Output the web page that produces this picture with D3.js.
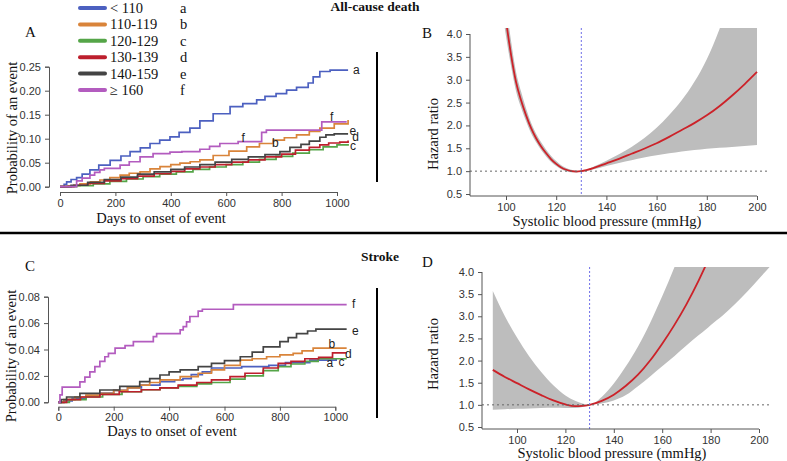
<!DOCTYPE html>
<html><head><meta charset="utf-8">
<script src="https://cdn.jsdelivr.net/npm/d3@7"></script>
<style>
body{margin:0;background:#fff;}
svg{display:block;}
.tick text{font-family:'Liberation Sans',Arimo,Arial,Helvetica,sans-serif;font-size:11px;fill:#333;}
.serif{font-family:'Liberation Serif',Tinos,'Times New Roman',Times,serif;fill:#111;}
.sans{font-family:'Liberation Sans',Arimo,Arial,Helvetica,sans-serif;fill:#222;}
</style></head>
<body>
<svg id="chart" width="787" height="461"></svg>
<script>
// ---------- DATA ----------
const groups = ["< 110","110-119","120-129","130-139","140-159","\u2265 160"];
const groupLetters = ["a","b","c","d","e","f"];
const groupColors = ["#4c60c0","#d9843a","#55a548","#bd1f2d","#444444","#b35cbf"];

const daysTicks = [0,200,400,600,800,1000];
const probTicksA = [0,0.05,0.10,0.15,0.20,0.25];
const probTicksC = [0,0.02,0.04,0.06,0.08];
const hrTicks = [0.5,1.0,1.5,2.0,2.5,3.0,3.5,4.0];
const sbpTicks = [100,120,140,160,180,200];

// All-cause death KM curves [day, probability]
const deathA = [[0,0],[15,0.005],[24,0.010],[40,0.015],[60,0.019],[80,0.026],[108,0.035],[140,0.045],[181,0.055],[220,0.064],[253,0.073],[290,0.081],[325,0.090],[360,0.097],[397,0.104],[430,0.113],[469,0.122],[505,0.137],[553,0.152],[614,0.167],[660,0.173],[710,0.181],[740,0.188],[780,0.194],[818,0.201],[854,0.207],[896,0.216],[914,0.229],[938,0.240],[975,0.243],[1040,0.243]];
const deathB = [[0,0],[30,0.002],[72,0.006],[110,0.010],[144,0.014],[180,0.019],[217,0.024],[250,0.028],[289,0.031],[325,0.037],[361,0.042],[400,0.046],[433,0.049],[470,0.052],[505,0.056],[553,0.065],[610,0.074],[674,0.083],[720,0.090],[770,0.097],[810,0.102],[854,0.108],[900,0.115],[938,0.122],[990,0.131],[1040,0.139]];
const deathC = [[0,0],[60,0.002],[120,0.006],[180,0.011],[240,0.016],[300,0.021],[360,0.026],[420,0.031],[480,0.036],[540,0.041],[600,0.046],[660,0.051],[720,0.057],[780,0.063],[840,0.070],[900,0.077],[950,0.083],[1000,0.087],[1040,0.089]];
const deathD = [[0,0],[50,0.003],[100,0.007],[160,0.012],[220,0.017],[280,0.022],[340,0.027],[400,0.032],[450,0.037],[505,0.041],[560,0.046],[620,0.051],[680,0.056],[740,0.062],[800,0.068],[850,0.076],[900,0.082],[938,0.087],[970,0.091],[1010,0.093],[1040,0.096]];
const deathE = [[0,0],[40,0.003],[100,0.009],[160,0.015],[220,0.020],[280,0.026],[340,0.031],[400,0.036],[450,0.041],[505,0.046],[560,0.051],[620,0.057],[680,0.062],[740,0.067],[794,0.073],[830,0.082],[870,0.088],[900,0.095],[938,0.103],[960,0.108],[990,0.110],[1040,0.110]];
const deathF = [[0,0],[54,0],[60,0.012],[80,0.018],[108,0.024],[125,0.030],[144,0.035],[160,0.038],[217,0.045],[250,0.052],[289,0.062],[336,0.069],[397,0.072],[440,0.073],[505,0.078],[540,0.084],[577,0.090],[643,0.094],[728,0.113],[745,0.118],[945,0.135],[1035,0.135]];

// Stroke KM curves
const strokeA = [[0,0],[20,0.001],[50,0.003],[100,0.005],[150,0.007],[200,0.009],[250,0.011],[300,0.013],[367,0.0156],[420,0.017],[450,0.018],[480,0.021],[520,0.023],[553,0.026],[662,0.027],[760,0.028],[820,0.030],[908,0.032],[1003,0.033]];
const strokeB = [[0,0],[20,0.002],[60,0.004],[100,0.0055],[150,0.0068],[200,0.009],[250,0.011],[294,0.013],[330,0.015],[367,0.017],[440,0.0194],[505,0.022],[553,0.0245],[600,0.028],[657,0.032],[700,0.033],[752,0.0345],[800,0.036],[848,0.037],[880,0.039],[920,0.041],[1041,0.041]];
const strokeC = [[0,0],[40,0.002],[100,0.004],[160,0.006],[230,0.008],[300,0.0095],[367,0.011],[433,0.012],[500,0.014],[553,0.015],[620,0.0175],[674,0.020],[740,0.024],[794,0.027],[840,0.029],[890,0.031],[938,0.033],[1041,0.033]];
const strokeD = [[0,0],[30,0.002],[80,0.004],[150,0.006],[220,0.008],[300,0.0095],[367,0.011],[433,0.013],[500,0.015],[553,0.017],[620,0.0195],[674,0.022],[740,0.026],[794,0.0295],[840,0.031],[890,0.033],[940,0.034],[990,0.0375],[1041,0.0375]];
const strokeE = [[0,0],[10,0.002],[30,0.004],[78,0.0068],[150,0.0093],[222,0.012],[294,0.0156],[330,0.018],[367,0.0207],[400,0.023],[440,0.0245],[505,0.027],[553,0.0295],[600,0.0315],[657,0.0345],[700,0.038],[740,0.042],[800,0.046],[830,0.049],[860,0.052],[900,0.054],[930,0.0555],[1041,0.0555]];
const strokeF = [[0,0],[6,0.0056],[14,0.0115],[66,0.0115],[78,0.0155],[96,0.019],[114,0.023],[132,0.027],[150,0.031],[168,0.0345],[181,0.037],[205,0.041],[241,0.043],[271,0.046],[343,0.0497],[355,0.052],[440,0.0548],[451,0.0573],[463,0.061],[475,0.065],[505,0.069],[520,0.0705],[632,0.074],[1041,0.074]];

// Spline hazard ratios: All-cause death
const sbpDeath =   [98,100,102,104,106,108,110,112,114,116,118,120,122,124,126,128,130,135,140,145,150,155,160,165,170,175,180,185,190,195,200];
const hrDeath =    [5.2,4.3,3.55,2.95,2.55,2.22,1.94,1.72,1.54,1.39,1.26,1.16,1.08,1.03,1.0,0.99,1.0,1.07,1.17,1.27,1.38,1.49,1.61,1.75,1.9,2.05,2.22,2.42,2.65,2.9,3.17];
const hrDeathLo =  [4.7,3.95,3.3,2.75,2.39,2.09,1.83,1.63,1.46,1.32,1.2,1.11,1.04,0.995,0.975,0.975,1.0,1.04,1.11,1.18,1.24,1.3,1.35,1.39,1.43,1.46,1.49,1.51,1.53,1.55,1.57];
const hrDeathHi =  [5.8,4.7,3.85,3.17,2.74,2.37,2.06,1.82,1.63,1.47,1.33,1.22,1.13,1.07,1.03,1.01,1.0,1.1,1.23,1.37,1.53,1.72,1.95,2.23,2.55,2.95,3.45,4.1,4.9,5.8,6.8];

// Spline hazard ratios: Stroke
const sbpStroke =   [90,95,100,105,110,115,120,124,127,130,135,140,145,150,155,160,165,170,175,178,180,185,190,195,200,205];
const hrStroke =    [1.79,1.63,1.49,1.35,1.22,1.1,1.01,0.97,0.975,1.0,1.09,1.23,1.43,1.68,2.0,2.38,2.8,3.27,3.8,4.15,null,null,null,null,null,null];
const hrStrokeLo =  [0.89,0.9,0.91,0.92,0.93,0.935,0.93,0.93,0.95,1.0,1.03,1.1,1.22,1.42,1.64,1.87,2.1,2.34,2.57,2.7,2.8,3.02,3.27,3.55,3.85,4.15];
const hrStrokeHi =  [3.57,3.0,2.52,2.1,1.74,1.44,1.21,1.09,1.03,1.0,1.18,1.48,1.87,2.32,2.85,3.45,4.1,4.8,5.6,6.1,6.5,7.5,8.5,9.5,10.5,11.5];

// ---------- DRAW ----------
const svg = d3.select("#chart");

function styleAxis(g){
  g.selectAll("path.domain").attr("stroke","#555").attr("stroke-width",1);
  g.selectAll(".tick line").attr("stroke","#555");
}
function stext(x,y,t,size,anchor){
  return svg.append("text").attr("class","serif").attr("x",x).attr("y",y)
    .attr("text-anchor",anchor||"start").style("font-size",size+"px").text(t);
}

// KM panel
function kmPanel(opt){
  const x = d3.scaleLinear().domain([0,1000]).range(opt.xr);
  const y = d3.scaleLinear().domain([0,opt.ymax]).range(opt.yr);
  const gx = svg.append("g").attr("transform",`translate(0,${opt.xAxisY})`)
    .call(d3.axisBottom(x).tickValues(daysTicks).tickFormat(d3.format("d")).tickSizeOuter(0).tickSize(4).tickPadding(3));
  styleAxis(gx);
  const gy = svg.append("g").attr("transform",`translate(${opt.yAxisX},0)`)
    .call(d3.axisLeft(y).tickValues(opt.yticks).tickFormat(d3.format(".2f")).tickSizeOuter(0).tickSize(4).tickPadding(4));
  styleAxis(gy);
  const line = d3.line().x(d=>x(d[0])).y(d=>y(d[1])).curve(d3.curveStepAfter);
  opt.series.forEach((s,i)=>{
    svg.append("path").datum(s).attr("d",line).attr("fill","none")
      .attr("stroke",groupColors[i]).attr("stroke-width",1.7);
  });
  opt.labels.forEach(l=>{
    svg.append("text").attr("class","sans").attr("x",x(l[1])).attr("y",y(l[2])).attr("dy","0.35em")
      .style("font-size","12px").text(l[0]);
  });
  svg.append("text").attr("class","serif").attr("transform",`translate(${opt.ytitleX},${opt.ytitleY}) rotate(-90)`)
    .attr("text-anchor","middle").style("font-size","14.5px").text("Probability of an event");
  stext(opt.xtitleX,opt.xtitleY,"Days to onset of event",14.5,"middle");
}

kmPanel({xr:[60,337], yr:[186.7,66.7], ymax:0.25, xAxisY:192, yAxisX:49, yticks:probTicksA,
  series:[deathA,deathB,deathC,deathD,deathE,deathF],
  labels:[["a",1058,0.243],["f",655,0.101],["b",765,0.092],["f",975,0.145],["e",1045,0.117],["d",1055,0.103],["c",1047,0.085]],
  ytitleX:17, ytitleY:128, xtitleX:161, xtitleY:223});

kmPanel({xr:[58.3,335.3], yr:[402.3,296.7], ymax:0.08, xAxisY:406.7, yAxisX:48, yticks:probTicksC,
  series:[strokeA,strokeB,strokeC,strokeD,strokeE,strokeF],
  labels:[["f",1060,0.0745],["e",1060,0.0545],["b",975,0.0445],["d",1035,0.0365],["a",968,0.0300],["c",1012,0.0305]],
  ytitleX:16, ytitleY:356, xtitleX:172, xtitleY:436});

// Legend
groups.forEach((g,i)=>{
  const yy = 8 + i*16.4;
  svg.append("line").attr("x1",80).attr("x2",105).attr("y1",yy).attr("y2",yy)
    .attr("stroke",groupColors[i]).attr("stroke-width",4).attr("stroke-linecap","round");
  stext(110,yy,g,14.5).attr("dy","0.35em");
  stext(180,yy,groupLetters[i],14.5).attr("dy","0.35em");
});

// Spline panel
let clipId = 0;
function hrPanel(opt){
  const x = d3.scaleLinear().domain([100,200]).range(opt.xr);
  const y = d3.scaleLinear().domain([0.5,4]).range(opt.yr);
  const x0 = x.invert(opt.clip[0]), x1 = x.invert(opt.clip[1]);
  const yTop = y.invert(opt.clip[2]), yBot = y.invert(opt.clip[3]);
  const id = "clip"+(clipId++);
  svg.append("clipPath").attr("id",id).append("rect")
    .attr("x",x(x0)).attr("y",y(yTop)).attr("width",x(x1)-x(x0)).attr("height",y(yBot)-y(yTop));
  const g = svg.append("g").attr("clip-path",`url(#${id})`);
  const rows = opt.sbp.map((s,i)=>({s, hr:opt.hr[i], lo:opt.lo[i], hi:opt.hi[i]}));
  g.append("path").datum(rows).attr("fill","#bdbdbd").attr("stroke","none")
    .attr("d",d3.area().x(d=>x(d.s)).y0(d=>y(d.lo)).y1(d=>y(d.hi)).curve(d3.curveMonotoneX));
  g.append("path").datum(rows.filter(d=>d.hr!=null)).attr("fill","none").attr("stroke","#cc2229").attr("stroke-width",1.8)
    .attr("d",d3.line().x(d=>x(d.s)).y(d=>y(d.hr)).curve(d3.curveMonotoneX));
  // reference lines
  svg.append("line").attr("x1",x(x0)).attr("x2",x(x1)).attr("y1",y(1)).attr("y2",y(1))
    .attr("stroke","#666").attr("stroke-width",1).attr("stroke-dasharray","2,3");
  svg.append("line").attr("x1",x(130)).attr("x2",x(130)).attr("y1",y(yTop)).attr("y2",y(yBot))
    .attr("stroke","#6f6fe8").attr("stroke-width",1).attr("stroke-dasharray","2,2");
  // axes
  const gx = svg.append("g").attr("transform",`translate(0,${y(yBot)})`)
    .call(d3.axisBottom(x).tickValues(sbpTicks).tickSizeOuter(0).tickSize(4).tickPadding(3));
  styleAxis(gx);
  gx.select("path.domain").remove();
  gx.append("line").attr("x1",x(x0)).attr("x2",x(200)).attr("stroke","#555");
  const gy = svg.append("g").attr("transform",`translate(${x(x0)},0)`)
    .call(d3.axisLeft(y).tickValues(hrTicks).tickFormat(d3.format(".1f")).tickSizeOuter(0).tickSize(4).tickPadding(4));
  styleAxis(gy);
  gy.select("path.domain").remove();
  gy.append("line").attr("y1",y(4)).attr("y2",y(yBot)).attr("stroke","#555");
  svg.append("text").attr("class","serif").attr("transform",`translate(${opt.ytitleX},${opt.ytitleY}) rotate(-90)`)
    .attr("text-anchor","middle").style("font-size","14.5px").text("Hazard ratio");
  stext(opt.xtitleX,opt.xtitleY,"Systolic blood pressure (mmHg)",14.5,"middle");
}

hrPanel({xr:[506,757], yr:[194,34], clip:[470,767,28,196], sbp:sbpDeath, hr:hrDeath, lo:hrDeathLo, hi:hrDeathHi,
  ytitleX:438, ytitleY:134, xtitleX:607, xtitleY:226});
hrPanel({xr:[517,759], yr:[427,272], clip:[482,770,267,429], sbp:sbpStroke, hr:hrStroke, lo:hrStrokeLo, hi:hrStrokeHi,
  ytitleX:438, ytitleY:354, xtitleX:612, xtitleY:458});

// Panel letters, titles, separators
[["A",25,37],["B",422,38],["C",25,271],["D",422,267]].forEach(p=>{ stext(p[1],p[2],p[0],15); });
stext(375,11,"All-cause death",13.5,"middle").style("font-weight","bold");
stext(380,261,"Stroke",13.5,"middle").style("font-weight","bold");
svg.append("line").attr("x1",0).attr("x2",787).attr("y1",233).attr("y2",233).attr("stroke","#000").attr("stroke-width",2.5);
svg.append("line").attr("x1",377).attr("x2",377).attr("y1",52).attr("y2",182).attr("stroke","#000").attr("stroke-width",2);
svg.append("line").attr("x1",377).attr("x2",377).attr("y1",288).attr("y2",418).attr("stroke","#000").attr("stroke-width",2);
</script>
</body></html>
